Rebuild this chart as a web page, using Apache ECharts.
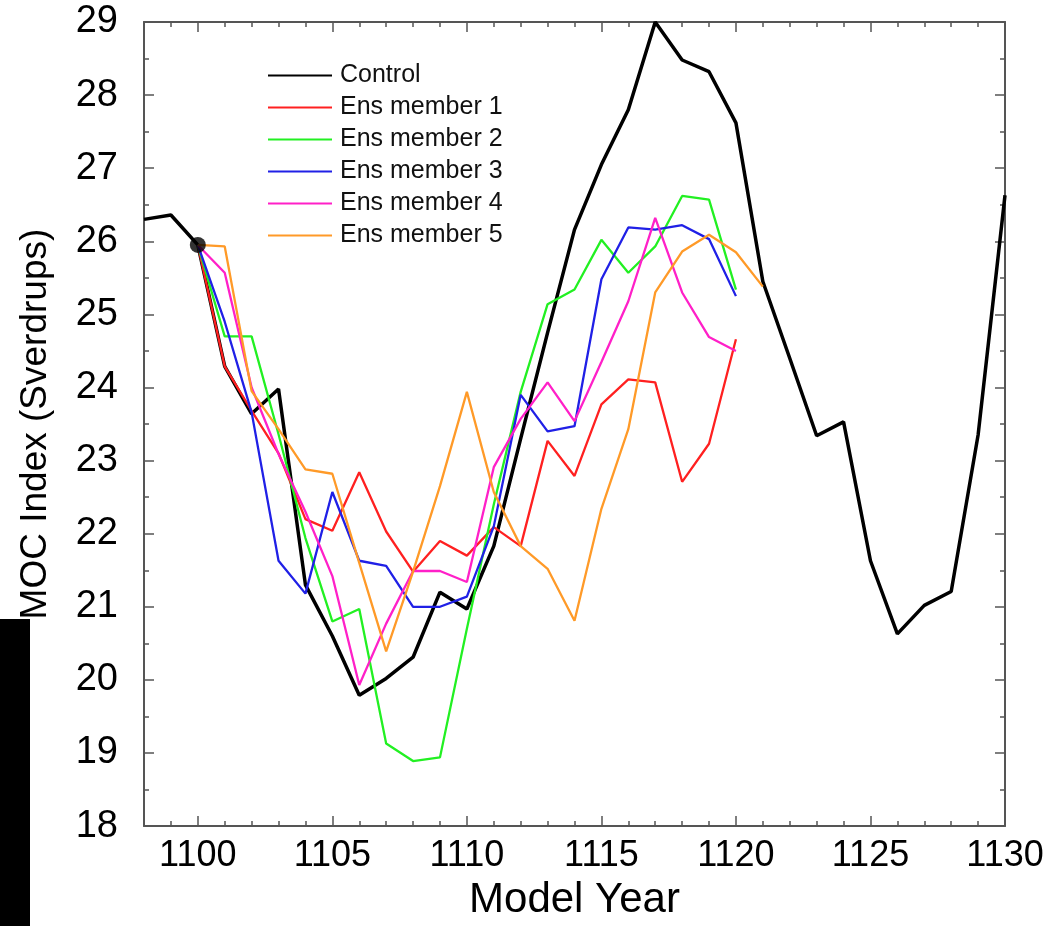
<!DOCTYPE html>
<html>
<head>
<meta charset="utf-8">
<script src="https://cdn.jsdelivr.net/npm/echarts@6/dist/echarts.min.js"></script>
<style>
  html, body { margin: 0; padding: 0; background: #fff; }
  #chart { width: 1061px; height: 926px; }
</style>
</head>
<body>
<div id="chart"></div>
<script>
// MOC index, control run and 5 ensemble members
var controlYears = [1098,1099,1100,1101,1102,1103,1104,1105,1106,1107,1108,1109,1110,1111,1112,1113,1114,1115,
    1116,1117,1118,1119,1120,1121,1122,1123,1124,1125,1126,1127,1128,1129,1130];
var control = [26.30,26.36,25.95,24.29,23.64,23.98,21.30,20.60,19.79,20.02,20.31,21.20,20.97,21.83,23.30,24.75,26.16,27.05,
    27.80,29.00,28.48,28.32,27.62,25.45,24.40,23.34,23.53,21.63,20.63,21.02,21.21,23.35,26.63];

var ensYears = [1100,1101,1102,1103,1104,1105,1106,1107,1108,1109,1110,1111,1112,1113,1114,1115,1116,1117,1118,1119,1120];
var ens5Years = ensYears.concat([1121]);
var ens1 = [25.95,24.29,23.68,23.10,22.20,22.04,22.84,22.03,21.48,21.90,21.70,22.09,21.83,23.27,22.79,23.77,24.11,24.07,22.71,23.23,24.66];
var ens2 = [25.95,24.70,24.70,23.36,21.94,20.80,20.97,19.13,18.89,18.94,20.70,22.40,23.94,25.14,25.34,26.02,25.57,25.93,26.62,26.57,25.34];
var ens3 = [25.95,24.90,23.66,21.63,21.18,22.57,21.63,21.56,21.00,21.00,21.14,22.10,23.90,23.40,23.47,25.48,26.19,26.16,26.22,26.03,25.25];
var ens4 = [25.95,25.57,24.00,23.09,22.30,21.42,19.93,20.77,21.49,21.49,21.34,22.91,23.57,24.07,23.54,24.35,25.18,26.32,25.30,24.69,24.50];
var ens5 = [25.95,25.93,23.95,23.43,22.88,22.82,21.60,20.39,21.48,22.65,23.94,22.57,21.83,21.52,20.81,22.34,23.43,25.30,25.86,26.09,25.85,25.38];

var seriesNames = ['Control','Ens member 1','Ens member 2','Ens member 3','Ens member 4','Ens member 5'];
var seriesColors = ['#000000','#ff2020','#22f022','#2020e6','#ff20c8','#ff9a28'];
var majorYears = [1100,1105,1110,1115,1120,1125,1130];
var startPoint = [1100, 25.95];

function pairs(xs, ys) {
    return xs.map(function (x, i) { return [x, ys[i]]; });
}

var font = 'Liberation Sans, Arial, sans-serif';
var axisGrey = '#555';

function lineSeries(name, xs, ys, color, width) {
    return {
        name: name,
        type: 'line',
        data: pairs(xs, ys),
        symbol: 'none',
        color: color,
        lineStyle: { color: color, width: width },
        z: 3
    };
}

function xAxisBase(pos, showLine) {
    return {
        type: 'value', position: pos, min: 1098, max: 1130, interval: 1,
        axisLine: { show: showLine, lineStyle: { color: axisGrey, width: 2 } },
        splitLine: { show: false },
        axisLabel: { show: false },
        axisTick: { show: true, inside: true, length: 5, lineStyle: { color: axisGrey, width: 1.5 } }
    };
}

function xAxisMajor(pos) {
    return {
        type: 'value', position: pos, min: 1098, max: 1130,
        axisLine: { show: false },
        splitLine: { show: false },
        axisLabel: { show: false },
        axisTick: { show: true, inside: true, length: 10, customValues: majorYears,
            lineStyle: { color: axisGrey, width: 1.5 } }
    };
}

var xBottom = xAxisBase('bottom', true);
xBottom.axisLabel = {
    show: true, customValues: majorYears, color: '#000', fontFamily: font, fontSize: 36, margin: 12,
    formatter: function (v) { return String(v); }
};
xBottom.name = 'Model Year';
xBottom.nameLocation = 'middle';
xBottom.nameGap = 52;
xBottom.nameTextStyle = { color: '#000', fontFamily: font, fontSize: 42 };

function yAxis(pos, labels) {
    return {
        type: 'value', position: pos, min: 18, max: 29, interval: 1,
        name: labels ? 'MOC Index (Sverdrups)' : '',
        nameLocation: 'middle', nameGap: 90,
        nameTextStyle: { color: '#000', fontFamily: font, fontSize: 37 },
        axisLine: { show: true, lineStyle: { color: axisGrey, width: 2 } },
        splitLine: { show: false },
        axisLabel: { show: labels, color: '#000', fontFamily: font, fontSize: 38, margin: 26 },
        axisTick: { show: true, inside: true, length: 10, lineStyle: { color: axisGrey, width: 1.5 } },
        minorTick: { show: true, splitNumber: 2, length: 5, lineStyle: { color: axisGrey, width: 1.5 } }
    };
}

var chart = echarts.init(document.getElementById('chart'), null, { renderer: 'canvas' });

var series = [
    lineSeries(seriesNames[0], controlYears, control, seriesColors[0], 3.5),
    lineSeries(seriesNames[1], ensYears, ens1, seriesColors[1], 2.3),
    lineSeries(seriesNames[2], ensYears, ens2, seriesColors[2], 2.3),
    lineSeries(seriesNames[3], ensYears, ens3, seriesColors[3], 2.3),
    lineSeries(seriesNames[4], ensYears, ens4, seriesColors[4], 2.3),
    lineSeries(seriesNames[5], ens5Years, ens5, seriesColors[5], 2.3),
    {
        name: 'start', type: 'scatter', data: [startPoint], symbolSize: 16,
        itemStyle: { color: '#000' }, z: 5, silent: true
    }
];

chart.setOption({
    animation: false,
    backgroundColor: '#fff',
    grid: { left: 144, right: 56, top: 22, bottom: 98 },
    xAxis: [xBottom, xAxisMajor('bottom'), xAxisBase('top', true), xAxisMajor('top')],
    yAxis: [yAxis('left', true), yAxis('right', false)],
    legend: {
        data: seriesNames,
        orient: 'vertical',
        left: 262, top: 58,
        itemWidth: 64, itemHeight: 24, itemGap: 7,
        itemStyle: { opacity: 0 },
        textStyle: { color: '#111', fontFamily: font, fontSize: 25, padding: [0, 0, 0, 3] }
    },
    graphic: [{
        type: 'rect', left: 0, top: 619,
        shape: { width: 30, height: 307 },
        style: { fill: '#000' }, z: 10
    }],
    series: series
});
</script>
</body>
</html>
